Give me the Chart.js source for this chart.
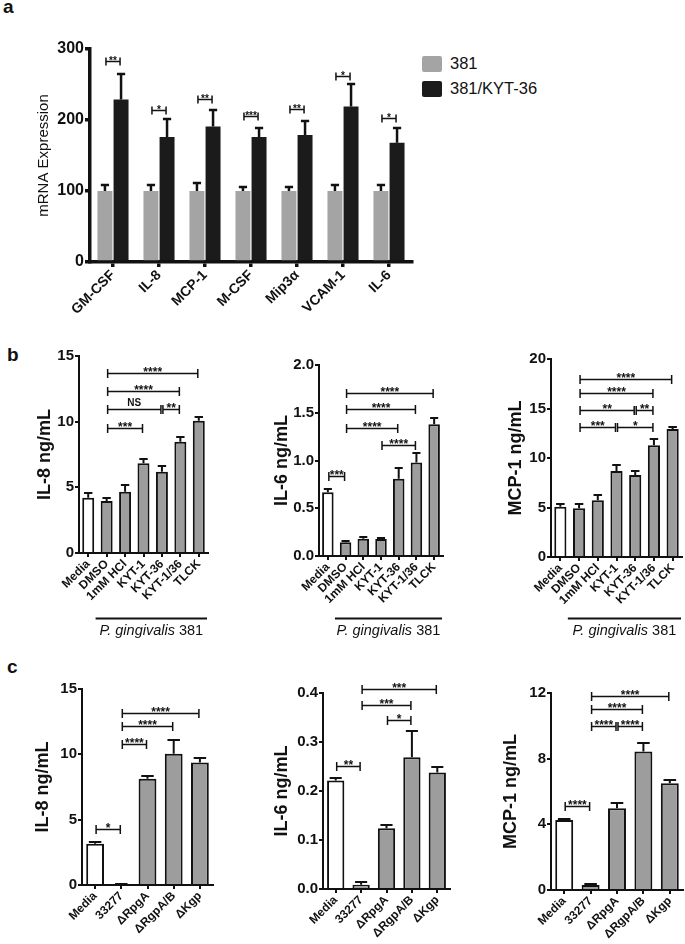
<!DOCTYPE html>
<html>
<head>
<meta charset="utf-8">
<script src="https://cdn.jsdelivr.net/npm/chart.js@4.4.1/dist/chart.umd.min.js"></script>
<style>
  html, body { margin: 0; padding: 0; background: #fff; overflow: hidden; }
  #page { position: relative; width: 685px; height: 944px; font-family: "Liberation Sans", Arial, sans-serif; color: #111; }
  canvas { position: absolute; }
  .panel { position: absolute; font-weight: bold; font-size: 19px; line-height: 1; }
  .legend { position: absolute; left: 422px; top: 51px; font-size: 16.5px; }
  .legend div { display: flex; align-items: center; height: 25px; }
  .legend .sw { display: inline-block; width: 20px; height: 16px; border-radius: 2px; margin-right: 8px; }
</style>
</head>
<body>
<div id="page">
  <div class="panel" style="left:3px;top:-3px">a</div>
  <div class="panel" style="left:7px;top:345px">b</div>
  <div class="panel" style="left:7px;top:657px">c</div>
  <div class="legend">
    <div><span class="sw" style="background:#a4a4a4"></span>381</div>
    <div><span class="sw" style="background:#1b1b1b"></span>381/KYT-36</div>
  </div>
  <canvas id="chartA" width="420" height="310" style="left:0;top:30px"></canvas>
  <canvas id="chartB1" width="222" height="310" style="left:0;top:336px"></canvas>
  <canvas id="chartB2" width="225" height="301" style="left:230px;top:345px"></canvas>
  <canvas id="chartB3" width="235" height="307" style="left:455px;top:339px"></canvas>
  <canvas id="chartC1" width="225" height="275" style="left:0;top:669px"></canvas>
  <canvas id="chartC2" width="232" height="271" style="left:230px;top:673px"></canvas>
  <canvas id="chartC3" width="235" height="271" style="left:455px;top:673px"></canvas>
</div>
<script>
// panel a
const aCategories = ['GM-CSF', 'IL-8', 'MCP-1', 'M-CSF', 'Mip3α', 'VCAM-1', 'IL-6'];
const a381 = [100, 100, 100, 100, 100, 100, 100];
const a381Err = [9, 8, 11, 6, 6, 9, 9];
const aKyt = [229, 176, 191, 176, 179, 219, 168];
const aKytErr = [36, 25, 23, 13, 19, 32, 21];
const aSig = [[0, 0, 283, '**'], [1, 1, 214, '*'], [2, 2, 230, '**'], [3, 3, 205, '***'],
              [4, 4, 215, '**'], [5, 5, 262, '*'], [6, 6, 203, '*']];

// panel b
const bLabels = ['Media', 'DMSO', '1mM HCl', 'KYT-1', 'KYT-36', 'KYT-1/36', 'TLCK'];
const il8B = [4.2, 3.95, 4.67, 6.83, 6.19, 8.47, 10.07];
const il8BErr = [0.35, 0.25, 0.48, 0.3, 0.43, 0.33, 0.26];
const il8BSig = [[1, 6, 13.7, '****'], [1, 5, 12.35, '****'], [1, 4, 11.0, 'NS'], [4, 5, 11.0, '**'], [1, 3, 9.55, '***']];
const il6B = [0.667, 0.143, 0.18, 0.177, 0.81, 0.98, 1.38];
const il6BErr = [0.033, 0.012, 0.02, 0.013, 0.11, 0.095, 0.065];
const il6BSig = [[1, 6, 1.71, '****'], [1, 5, 1.535, '****'], [1, 4, 1.343, '****'], [3, 5, 1.16, '****'], [0, 1, 0.84, '***']];
const mcp1B = [5.07, 4.93, 5.74, 8.68, 8.28, 11.3, 12.94];
const mcp1BErr = [0.27, 0.47, 0.56, 0.62, 0.37, 0.6, 0.16];
const mcp1BSig = [[1, 6, 17.97, '****'], [1, 5, 16.55, '****'], [1, 4, 14.86, '**'], [4, 5, 14.86, '**'],
                  [1, 3, 13.17, '***'], [3, 5, 13.17, '*']];

// panel c
const cLabels = ['Media', '33277', 'ΔRpgA', 'ΔRgpA/B', 'ΔKgp'];
const il8C = [3.16, 0.05, 8.13, 10.05, 9.38];
const il8CErr = [0.1, 0.02, 0.25, 1.02, 0.34];
const il8CSig = [[1, 4, 13.16, '****'], [1, 3, 12.14, '****'], [1, 2, 10.8, '****'], [0, 1, 4.28, '*']];
const il6C = [0.2215, 0.0088, 0.124, 0.269, 0.238];
const il6CErr = [0.006, 0.005, 0.006, 0.054, 0.01];
const il6CSig = [[1, 4, 0.409, '***'], [1, 3, 0.376, '***'], [2, 3, 0.3456, '*'], [0, 1, 0.252, '**']];
const mcp1C = [4.27, 0.3, 4.98, 8.44, 6.51];
const mcp1CErr = [0.08, 0.06, 0.31, 0.54, 0.2];
const mcp1CSig = [[1, 4, 11.8, '****'], [1, 3, 11.04, '****'], [1, 2, 9.96, '****'], [2, 3, 9.96, '****'], [0, 1, 5.12, '****']];

const FONT = '"Liberation Sans", Arial, sans-serif';
const INK = '#111';
const GREY = '#9d9d9d';
Chart.defaults.font.family = FONT;
Chart.defaults.color = INK;

// error bars, significance brackets and the strain label
const extras = {
  id: 'extras',
  afterDatasetsDraw(chart, args, o) {
    const ctx = chart.ctx;
    const ys = chart.scales.y;
    ctx.save();
    ctx.strokeStyle = INK;
    ctx.fillStyle = INK;
    chart.data.datasets.forEach((ds, di) => {
      if (!ds.errors) return;
      chart.getDatasetMeta(di).data.forEach((bar, i) => {
        const top = Math.round(ys.getPixelForValue(ds.data[i] + ds.errors[i]));
        const half = bar.width * o.cap / 2;
        ctx.lineWidth = o.errWidth;
        ctx.beginPath();
        ctx.moveTo(bar.x, bar.y);
        ctx.lineTo(bar.x, top);
        ctx.moveTo(bar.x - half, top);
        ctx.lineTo(bar.x + half, top);
        ctx.stroke();
      });
    });
    const first = chart.getDatasetMeta(0).data;
    const second = o.pair ? chart.getDatasetMeta(1).data : first;
    (o.brackets || []).forEach(([a, b, v, txt]) => {
      const x1 = first[a].x + 1;
      const x2 = second[b].x - 1;
      const y = Math.round(ys.getPixelForValue(v)) + 0.5;
      ctx.lineWidth = o.lineWidth;
      ctx.beginPath();
      ctx.moveTo(x1, y); ctx.lineTo(x2, y);
      ctx.moveTo(x1, y - o.tick); ctx.lineTo(x1, y + o.tick);
      ctx.moveTo(x2, y - o.tick); ctx.lineTo(x2, y + o.tick);
      ctx.stroke();
      const star = txt.indexOf('*') >= 0;
      ctx.font = 'bold ' + (star ? o.starSize : o.textSize) + 'px ' + FONT;
      ctx.textAlign = 'center';
      ctx.textBaseline = 'alphabetic';
      ctx.fillText(txt, (x1 + x2) / 2, star ? y + o.starDrop : y - 4);
    });
    if (o.strainGap) {
      const x1 = chart.scales.x.getPixelForValue(0.4);
      const x2 = chart.chartArea.right - 1;
      const y = Math.round(chart.chartArea.bottom + o.strainGap) + 0.5;
      ctx.lineWidth = 2;
      ctx.beginPath();
      ctx.moveTo(x1, y); ctx.lineTo(x2, y);
      ctx.stroke();
      const f = '14.5px ' + FONT;
      ctx.font = 'italic ' + f;
      const w1 = ctx.measureText('P. gingivalis').width;
      ctx.font = f;
      const w2 = ctx.measureText(' 381').width;
      const x = (x1 + x2 - w1 - w2) / 2;
      ctx.textAlign = 'left';
      ctx.textBaseline = 'middle';
      ctx.font = 'italic ' + f;
      ctx.fillText('P. gingivalis', x, y + 12);
      ctx.font = f;
      ctx.fillText(' 381', x + w1, y + 12);
    }
    ctx.restore();
  }
};

function axes(o) {
  return {
    x: {
      grid: { offset: false, drawOnChartArea: false, tickLength: o.tick, lineWidth: o.axisW, color: INK },
      border: { color: INK, width: o.axisW },
      ticks: { autoSkip: false, maxRotation: 45, minRotation: 45, padding: 0, color: INK,
               font: { size: o.xFont, weight: 'bold' } },
      afterFit: (s) => { s.height = o.xHeight; },
    },
    y: {
      min: 0,
      max: o.max,
      grid: { drawOnChartArea: false, tickLength: o.tick, lineWidth: o.axisW, color: INK },
      border: { color: INK, width: o.axisW },
      ticks: { stepSize: o.step, padding: 1, color: INK, font: { size: o.yFont, weight: 'bold' },
               callback: o.fmt || ((v) => v) },
      title: { display: true, text: o.title, color: INK,
               font: { size: o.titleSize || 18, weight: o.titleWeight || 'bold', lineHeight: 1 },
               padding: { top: o.titlePad, bottom: 0 } },
      afterFit: (s) => { s.width = o.yWidth; },
    },
  };
}

new Chart(document.getElementById('chartA'), {
  type: 'bar',
  data: {
    labels: aCategories,
    datasets: [
      { label: '381', data: a381, errors: a381Err, backgroundColor: '#a4a4a4',
        categoryPercentage: 0.7, barPercentage: 0.93 },
      { label: '381/KYT-36', data: aKyt, errors: aKytErr, backgroundColor: '#1b1b1b',
        categoryPercentage: 0.7, barPercentage: 0.93 },
    ],
  },
  options: {
    responsive: false,
    animation: false,
    layout: { padding: { top: 19, right: 8, left: 0, bottom: 0 } },
    plugins: {
      legend: { display: false },
      tooltip: { enabled: false },
      extras: { pair: true, brackets: aSig, cap: 0.55, errWidth: 2.5, lineWidth: 1.5, tick: 4,
                starSize: 10, textSize: 10, starDrop: 2.5 },
    },
    scales: axes({ max: 300, step: 100, tick: 5, axisW: 3.5, xFont: 14, yFont: 16, xHeight: 78,
                   yWidth: 90, title: 'mRNA Expression', titleSize: 15, titleWeight: 'normal', titlePad: 36 }),
  },
  plugins: [extras],
});

function panelChart(id, labels, values, errors, brackets, bar, scale, strainGap) {
  return new Chart(document.getElementById(id), {
    type: 'bar',
    data: {
      labels,
      datasets: [{
        data: values,
        errors,
        backgroundColor: labels.map((l, i) => (i === 0 ? '#ffffff' : GREY)),
        borderColor: INK,
        borderWidth: 2,
        categoryPercentage: 1,
        barPercentage: bar.width,
      }],
    },
    options: {
      responsive: false,
      animation: false,
      layout: { padding: { top: 20, right: bar.right, left: 0, bottom: 0 } },
      plugins: {
        legend: { display: false },
        tooltip: { enabled: false },
        extras: { brackets, cap: 0.7, errWidth: 2, lineWidth: 1.5, tick: 4.5,
                  starSize: 12, textSize: 10, starDrop: 2, strainGap },
      },
      scales: axes(scale),
    },
    plugins: [extras],
  });
}

const one = (v) => v.toFixed(1);

panelChart('chartB1', bLabels, il8B, il8BErr, il8BSig, { width: 0.65, right: 14 },
  { max: 15, step: 5, tick: 4, axisW: 2, xFont: 12, yFont: 15, xHeight: 93, yWidth: 79,
    title: 'IL-8 ng/mL', titlePad: 36 }, 64.5);
panelChart('chartB2', bLabels, il6B, il6BErr, il6BSig, { width: 0.65, right: 12 },
  { max: 2, step: 0.5, tick: 4, axisW: 2, xFont: 12, yFont: 15, xHeight: 90, yWidth: 89,
    title: 'IL-6 ng/mL', titlePad: 43, fmt: one }, 61.5);
panelChart('chartB3', bLabels, mcp1B, mcp1BErr, mcp1BSig, { width: 0.65, right: 8 },
  { max: 20, step: 5, tick: 4, axisW: 2, xFont: 12, yFont: 15, xHeight: 89, yWidth: 96,
    title: 'MCP-1 ng/mL', titlePad: 52 }, 60.5);

panelChart('chartC1', cLabels, il8C, il8CErr, il8CSig, { width: 0.68, right: 12 },
  { max: 15, step: 5, tick: 4, axisW: 2, xFont: 12, yFont: 15, xHeight: 59, yWidth: 82,
    title: 'IL-8 ng/mL', titlePad: 34 });
panelChart('chartC2', cLabels, il6C, il6CErr, il6CSig, { width: 0.68, right: 12 },
  { max: 0.4, step: 0.1, tick: 4, axisW: 2, xFont: 12, yFont: 15, xHeight: 55, yWidth: 93,
    title: 'IL-6 ng/mL', titlePad: 43, fmt: one });
panelChart('chartC3', cLabels, mcp1C, mcp1CErr, mcp1CSig, { width: 0.68, right: 7 },
  { max: 12, step: 4, tick: 4, axisW: 2, xFont: 12, yFont: 15, xHeight: 54, yWidth: 96,
    title: 'MCP-1 ng/mL', titlePad: 47 });
</script>
</body>
</html>
